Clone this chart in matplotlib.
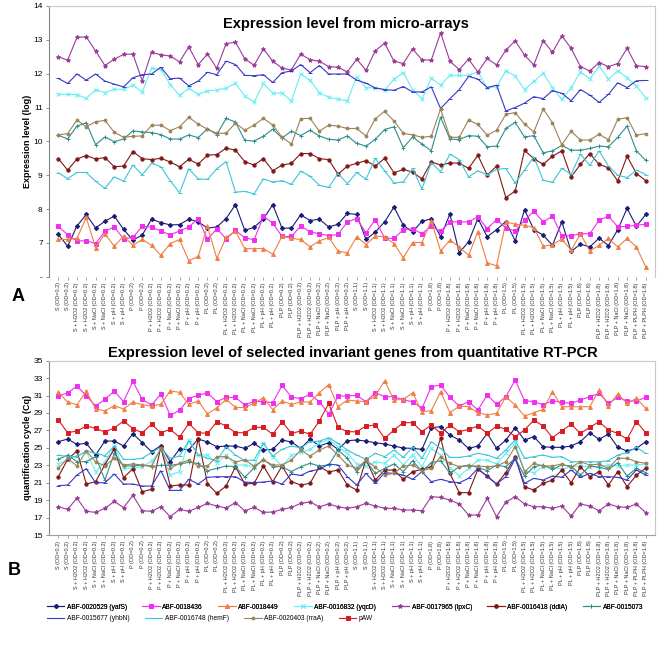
import matplotlib
matplotlib.use("Agg")
import matplotlib.pyplot as plt

plt.rcParams["font.family"] = ["Liberation Sans", "DejaVu Sans"]

####################################################################################################
# Data                                                                                             #
####################################################################################################

conditions = [
    "S (OD=0.2)", "S (OD=0.2)", "S + H2O2 (OD=0.2)", "S + H2O2 (OD=0.2)",
    "S + NaCl (OD=0.2)", "S + NaCl (OD=0.2)", "S + pH (OD=0.2)", "S + pH (OD=0.2)",
    "P (OD=0.2)", "P (OD=0.2)", "P + H2O2 (OD=0.2)", "P + H2O2 (OD=0.2)",
    "P + NaCl (OD=0.2)", "P + NaCl (OD=0.2)", "P + pH (OD=0.2)", "P + pH (OD=0.2)",
    "PL (OD=0.2)", "PL (OD=0.2)", "PL + H2O2 (OD=0.2)", "PL + H2O2 (OD=0.2)",
    "PL + NaCl (OD=0.2)", "PL + NaCl (OD=0.2)", "PL + pH (OD=0.2)", "PL + pH (OD=0.2)",
    "PLP (OD=0.2)", "PLP (OD=0.2)", "PLP + H2O2 (OD=0.2)", "PLP + H2O2 (OD=0.2)",
    "PLP + NaCl (OD=0.2)", "PLP + NaCl (OD=0.2)", "PLP + pH (OD=0.2)", "PLP + pH (OD=0.2)",
    "S (OD=1.1)", "S (OD=1.1)", "S + H2O2 (OD=1.1)", "S + H2O2 (OD=1.1)",
    "S + NaCl (OD=1.1)", "S + NaCl (OD=1.1)", "S + pH (OD=1.1)", "S + pH (OD=1.1)",
    "P (OD=1.8)", "P (OD=1.8)", "P + H2O2 (OD=1.8)", "P + H2O2 (OD=1.8)",
    "P + NaCl (OD=1.8)", "P + NaCl (OD=1.8)", "P + pH (OD=1.8)", "P + pH (OD=1.8)",
    "PL (OD=1.5)", "PL (OD=1.5)", "PL + H2O2 (OD=1.5)", "PL + H2O2 (OD=1.5)",
    "PL + NaCl (OD=1.5)", "PL + NaCl (OD=1.5)", "PL + pH (OD=1.5)", "PL + pH (OD=1.5)",
    "PLP (OD=1.8)", "PLP (OD=1.8)", "PLP + H2O2 (OD=1.8)", "PLP + H2O2 (OD=1.8)",
    "PLP + NaCl (OD=1.8)", "PLP + NaCl (OD=1.8)", "PLP + PLPH (OD=1.8)", "PLP + PLPH (OD=1.8)",
]

gene_names = [
    "ABF-0020529 (yafS)", "ABF-0018436", "ABF-0018449", "ABF-0016832 (yqcD)",
    "ABF-0017965 (lpxC)", "ABF-0016418 (ddlA)", "ABF-0015073", "ABF-0015677 (yhbN)",
    "ABF-0016748 (hemF)", "ABF-0020403 (rraA)", "pAW",
]

# Panel A: micro-array expression level (log)
yafS_a = [7.25, 6.90, 7.50, 7.84, 7.44, 7.64, 7.79, 7.40, 7.08, 7.23, 7.70, 7.60, 7.53, 7.54, 7.70, 7.62,
          7.44, 7.47, 7.72, 8.13, 7.37, 7.46, 7.71, 8.13, 7.43, 7.44, 7.83, 7.66, 7.70, 7.47, 7.55, 7.87,
          7.84, 7.10, 7.32, 7.62, 8.06, 7.52, 7.32, 7.64, 7.71, 7.18, 7.85, 6.71, 7.03, 7.72, 7.18, 7.39,
          7.63, 7.06, 7.98, 7.39, 7.23, 6.93, 7.62, 6.75, 6.96, 6.88, 7.14, 6.92, 7.39, 8.02, 7.49, 7.84]
m436_a = [7.49, 7.24, 7.06, 7.06, 6.98, 7.34, 7.47, 7.12, 7.16, 7.49, 7.47, 7.35, 7.24, 7.35, 7.47, 7.72,
          7.10, 7.42, 7.12, 7.37, 7.15, 7.09, 7.79, 7.58, 7.19, 7.19, 7.50, 7.32, 7.27, 7.21, 7.25, 7.62,
          7.72, 7.29, 7.69, 7.14, 7.13, 7.39, 7.42, 7.27, 7.49, 7.34, 7.62, 7.62, 7.62, 7.77, 7.42, 7.69,
          7.44, 7.35, 7.67, 7.93, 7.62, 7.79, 7.21, 7.21, 7.27, 7.27, 7.67, 7.79, 7.47, 7.49, 7.52, 7.55]
o449_a = [7.10, 7.10, 7.13, 7.75, 6.86, 7.27, 6.90, 7.20, 6.93, 7.10, 6.93, 6.63, 6.98, 7.10, 6.47, 6.60,
          7.49, 6.54, 7.16, 7.35, 6.83, 6.83, 6.83, 6.66, 7.20, 7.13, 7.10, 6.88, 7.06, 7.16, 6.76, 6.70,
          7.18, 6.95, 7.20, 7.18, 6.98, 6.56, 7.01, 7.01, 7.65, 6.76, 7.08, 6.88, 6.63, 7.33, 6.41, 6.32,
          7.62, 7.55, 7.52, 7.45, 6.90, 6.95, 7.11, 6.78, 7.27, 6.76, 6.93, 7.13, 6.88, 7.13, 6.88, 6.29]
yqcD_a = [11.39, 11.39, 11.38, 11.27, 11.53, 11.44, 11.54, 11.54, 11.66, 11.46, 12.16, 12.13, 11.68, 11.36,
          11.57, 11.39, 11.49, 11.52, 11.57, 11.72, 11.34, 11.16, 11.71, 11.42, 11.43, 11.19, 12.00, 11.80,
          11.44, 11.30, 11.25, 11.19, 11.91, 11.58, 11.59, 11.51, 11.84, 12.03, 11.53, 11.25, 11.87, 11.66,
          11.95, 11.95, 11.95, 12.05, 11.59, 11.61, 12.09, 11.93, 11.53, 11.77, 12.01, 11.59, 11.24, 11.59,
          12.05, 11.85, 12.22, 11.84, 12.09, 11.88, 11.63, 11.29]
lpxC_a = [12.50, 12.40, 13.07, 13.09, 12.67, 12.24, 12.43, 12.57, 12.58, 11.79, 12.63, 12.56, 12.52, 12.35,
          12.79, 12.27, 12.58, 12.16, 12.89, 12.93, 12.44, 12.25, 12.73, 12.37, 12.16, 12.11, 12.58, 12.41,
          12.37, 12.21, 12.19, 12.05, 12.43, 12.10, 12.68, 12.90, 12.37, 12.30, 12.73, 12.41, 12.40, 13.21,
          12.37, 12.12, 12.43, 12.05, 12.45, 12.26, 12.70, 12.97, 12.55, 12.26, 12.98, 12.63, 13.12, 12.75,
          12.21, 12.08, 12.33, 12.21, 12.30, 12.75, 12.23, 12.21]
ddlA_a = [9.49, 9.15, 9.48, 9.58, 9.48, 9.52, 9.25, 9.27, 9.70, 9.49, 9.46, 9.50, 9.39, 9.25, 9.47, 9.33,
          9.59, 9.61, 9.80, 9.74, 9.40, 9.30, 9.49, 9.13, 9.30, 9.35, 9.64, 9.64, 9.49, 9.46, 9.03, 9.27,
          9.35, 9.43, 9.27, 9.50, 9.07, 9.17, 9.09, 8.89, 9.39, 9.30, 9.36, 9.36, 9.20, 9.59, 9.00, 9.27,
          8.34, 8.53, 9.73, 9.49, 9.32, 9.56, 9.72, 8.95, 9.32, 9.64, 9.32, 9.22, 8.83, 9.56, 9.05, 8.84]
t073_a = [10.18, 10.07, 10.45, 10.55, 9.90, 10.13, 9.99, 10.07, 10.31, 10.28, 10.26, 10.20, 10.07, 10.07,
          10.19, 10.11, 10.37, 10.20, 10.68, 10.57, 10.03, 10.01, 10.15, 10.36, 10.10, 10.30, 10.17, 10.33,
          10.16, 10.06, 10.04, 10.16, 9.94, 9.86, 10.06, 10.35, 10.43, 9.81, 10.13, 9.92, 9.72, 10.71,
          10.07, 10.05, 10.17, 10.15, 9.84, 9.86, 10.38, 10.56, 10.13, 10.17, 9.66, 9.72, 9.88, 9.74,
          9.74, 9.79, 9.86, 9.84, 10.12, 10.45, 9.72, 9.44]
yhbN_a = [11.86, 11.71, 11.99, 11.81, 11.99, 11.78, 11.69, 11.61, 11.88, 11.97, 11.99, 12.19, 11.85, 11.87,
          11.64, 11.78, 12.04, 11.97, 12.37, 12.27, 11.95, 11.94, 11.97, 11.74, 12.03, 12.08, 12.27, 12.03,
          12.24, 11.99, 11.99, 11.99, 11.81, 11.72, 11.58, 11.53, 11.51, 11.62, 11.46, 11.46, 11.61, 10.97,
          11.26, 11.53, 11.92, 11.84, 11.59, 11.66, 10.90, 11.00, 11.13, 11.32, 11.26, 11.50, 11.42, 11.20,
          11.53, 11.37, 11.15, 11.39, 11.73, 11.59, 11.79, 11.80]
hemF_a = [9.07, 8.90, 9.08, 9.08, 8.82, 8.61, 8.95, 8.82, 9.30, 9.01, 9.35, 9.25, 8.84, 8.48, 9.19, 8.89,
          8.88, 9.19, 9.40, 8.50, 8.52, 8.45, 8.89, 8.80, 8.84, 8.73, 9.12, 8.97, 8.70, 8.64, 9.05, 8.75,
          9.08, 8.88, 9.50, 9.13, 8.77, 8.80, 9.20, 8.59, 9.37, 9.10, 9.62, 9.46, 8.95, 9.13, 9.01, 9.17,
          9.20, 8.77, 9.15, 9.54, 8.85, 8.79, 9.20, 9.03, 9.62, 9.29, 9.72, 9.27, 9.00, 8.93, 9.15, 9.02]
rraA_a = [10.19, 10.23, 10.63, 10.43, 10.58, 10.62, 10.27, 10.12, 10.15, 10.16, 10.47, 10.48, 10.32, 10.43,
          10.71, 10.51, 10.36, 10.24, 10.24, 10.54, 10.33, 10.48, 10.68, 10.48, 10.12, 9.92, 10.67, 10.68,
          10.30, 10.48, 10.45, 10.38, 10.38, 10.16, 10.67, 10.89, 10.60, 10.24, 10.19, 10.12, 10.15, 10.96,
          10.12, 10.12, 10.63, 10.50, 10.18, 10.33, 10.80, 10.85, 10.51, 10.28, 10.96, 10.55, 9.90, 10.30,
          10.04, 10.04, 10.21, 10.05, 10.65, 10.70, 10.18, 10.23]

# Panel B: quantitative RT-PCR quantification cycle (Cq)
yafS_b = [25.71, 26.01, 25.40, 25.52, 24.18, 25.78, 25.78, 25.21, 26.63, 25.59, 24.56, 25.25, 23.41, 24.87,
          24.79, 26.01, 25.67, 25.13, 25.21, 25.21, 24.94, 25.52, 24.75, 24.83, 25.90, 25.67, 24.94, 26.01,
          25.21, 25.59, 24.83, 25.82, 25.90, 25.78, 25.59, 25.44, 25.21, 24.98, 24.94, 24.83, 27.31, 27.43,
          26.47, 25.90, 24.94, 25.21, 26.66, 24.94, 25.90, 27.31, 25.90, 26.28, 25.13, 25.06, 25.06, 25.21,
          25.71, 26.74, 25.98, 26.59, 25.06, 24.64, 24.94, 25.71]
m436_b = [30.98, 31.29, 32.09, 30.98, 29.80, 30.56, 31.52, 30.30, 32.63, 30.56, 29.91, 31.18, 28.73, 29.30,
          30.64, 31.06, 31.29, 30.30, 30.79, 30.79, 29.91, 30.33, 30.30, 30.18, 32.17, 30.83, 30.64, 31.14,
          30.30, 28.88, 30.95, 30.95, 31.02, 30.30, 31.33, 30.87, 30.87, 30.49, 30.30, 29.53, 32.02, 32.21,
          30.79, 29.80, 30.30, 29.34, 31.06, 29.99, 30.87, 32.78, 30.41, 30.30, 29.95, 30.41, 30.22, 30.11,
          30.49, 30.87, 31.25, 30.11, 30.79, 30.37, 30.37, 30.79]
o449_b = [31.37, 30.26, 29.95, 31.48, 29.49, 29.23, 29.84, 29.46, 30.26, 29.95, 29.80, 29.99, 31.52, 31.37,
          29.99, 30.37, 28.88, 29.61, 30.56, 29.65, 29.61, 30.11, 30.76, 29.38, 30.37, 29.99, 30.26, 30.26,
          31.33, 32.25, 29.72, 30.49, 30.37, 30.30, 30.95, 32.71, 30.49, 30.56, 31.33, 29.15, 29.26, 31.44,
          29.03, 29.80, 29.72, 29.03, 28.77, 28.96, 30.87, 29.91, 28.65, 29.03, 29.42, 31.44, 29.72, 29.72,
          29.72, 29.72, 31.63, 29.80, 31.18, 30.11, 30.68, 29.53]
yqcD_b = [23.14, 23.60, 24.06, 24.56, 22.27, 23.41, 25.21, 22.65, 22.65, 22.84, 23.45, 24.83, 21.88, 22.27,
          25.90, 24.18, 24.18, 23.30, 24.18, 23.03, 23.03, 22.84, 25.52, 23.99, 22.92, 24.14, 24.48, 24.83,
          25.59, 25.98, 25.13, 24.37, 23.15, 22.92, 23.41, 23.22, 24.18, 23.03, 24.18, 22.84, 24.94, 24.18,
          22.72, 21.77, 22.65, 23.60, 23.60, 23.15, 24.37, 25.52, 22.38, 22.15, 22.84, 22.76, 22.53, 22.84,
          22.92, 22.84, 22.84, 23.03, 22.92, 23.03, 23.03, 23.15]
lpxC_b = [18.25, 17.94, 19.24, 17.72, 17.60, 18.06, 18.86, 18.14, 19.55, 17.79, 17.72, 18.25, 17.10, 17.94,
          17.72, 18.17, 18.63, 18.33, 18.10, 18.71, 17.79, 18.17, 17.60, 17.64, 17.94, 18.17, 18.63, 18.79,
          18.25, 18.56, 18.25, 18.06, 18.25, 18.63, 18.33, 18.06, 18.06, 17.87, 17.87, 17.79, 19.40, 19.32,
          19.01, 18.56, 17.29, 17.29, 19.21, 17.10, 18.79, 19.40, 18.56, 18.25, 18.25, 18.06, 18.33, 17.18,
          18.56, 18.33, 17.79, 18.56, 18.25, 18.17, 18.56, 17.56]
ddlA_b = [21.69, 23.68, 24.64, 20.85, 21.12, 23.07, 24.87, 21.58, 22.61, 19.97, 20.24, 25.13, 20.62, 20.74,
          20.74, 26.05, 20.89, 19.78, 20.62, 22.84, 20.85, 20.93, 22.92, 21.12, 22.92, 21.12, 20.74, 20.93,
          22.84, 22.23, 22.46, 20.74, 20.16, 23.68, 21.31, 22.46, 22.46, 21.39, 22.27, 22.53, 22.84, 26.09,
          22.07, 19.86, 19.86, 22.53, 21.77, 20.85, 22.15, 23.99, 20.54, 20.16, 20.93, 21.31, 22.46, 21.00,
          22.84, 21.69, 22.27, 20.74, 22.27, 20.54, 21.88, 22.65]
t073_b = [23.68, 24.18, 23.41, 23.41, 23.99, 21.31, 24.37, 22.92, 22.92, 23.03, 22.84, 23.00, 23.00, 23.15,
          23.34, 23.22, 22.38, 22.65, 22.92, 22.84, 21.62, 22.72, 23.68, 22.84, 22.84, 22.27, 22.84, 23.22,
          22.92, 23.03, 24.75, 23.80, 22.27, 23.53, 22.07, 22.65, 23.15, 22.27, 23.53, 22.27, 23.30, 23.53,
          22.07, 22.84, 23.03, 22.76, 22.38, 23.03, 22.84, 23.80, 21.77, 22.84, 23.03, 22.53, 23.03, 22.92,
          21.88, 22.92, 22.76, 22.53, 23.30, 21.77, 22.65, 22.15]
yhbN_b = [20.66, 20.74, 21.88, 22.61, 21.00, 21.00, 22.00, 20.85, 20.85, 20.62, 20.62, 22.38, 20.12, 20.12,
          21.39, 20.85, 21.62, 21.69, 21.69, 21.69, 21.08, 21.00, 21.08, 21.20, 20.85, 22.00, 21.84, 22.34,
          22.53, 23.14, 23.03, 21.69, 20.74, 22.07, 20.93, 22.15, 22.07, 21.88, 21.39, 22.27, 21.12, 21.39,
          21.12, 21.00, 21.50, 22.65, 21.69, 20.85, 21.69, 23.76, 20.93, 21.50, 21.31, 21.77, 21.62, 22.46,
          21.62, 22.07, 21.69, 21.69, 21.62, 21.31, 22.46, 21.88]
hemF_b = [24.18, 23.99, 23.99, 24.64, 24.37, 24.10, 25.21, 23.68, 23.68, 23.80, 24.48, 25.02, 23.80, 24.06,
          25.78, 24.22, 23.80, 23.53, 25.13, 24.18, 23.53, 23.60, 25.52, 24.06, 24.83, 25.21, 24.98, 25.71,
          25.78, 26.17, 25.52, 24.75, 24.18, 23.68, 24.37, 23.99, 24.75, 23.91, 25.06, 23.80, 25.71, 24.94,
          23.91, 23.91, 24.06, 24.37, 24.18, 23.80, 24.75, 25.90, 23.80, 23.99, 24.18, 23.91, 23.99, 23.41,
          23.41, 23.41, 23.41, 23.53, 24.18, 24.45, 25.06, 24.37]
rraA_b = [22.65, 23.80, 22.92, 24.64, 23.41, 22.92, 23.80, 23.03, 23.15, 23.03, 22.92, 24.94, 22.65, 23.22,
          23.60, 22.92, 22.92, 23.99, 23.99, 23.41, 23.60, 22.92, 23.60, 23.03, 23.03, 23.60, 24.75, 24.06,
          24.75, 25.21, 24.18, 23.03, 22.65, 23.60, 22.76, 21.88, 22.07, 22.92, 23.03, 22.38, 22.65, 23.99,
          23.22, 22.84, 22.92, 22.92, 22.84, 22.92, 23.41, 25.13, 22.27, 23.22, 22.92, 22.92, 23.15, 22.76,
          23.41, 23.03, 23.15, 22.65, 23.80, 23.80, 23.41, 23.22]
paw_b = [28.19, 26.74, 26.93, 27.50, 27.24, 26.82, 27.28, 28.08, 27.20, 26.74, 27.70, 26.74, 27.12, 26.24,
         27.81, 26.74, 26.66, 28.00, 27.50, 26.74, 26.74, 27.35, 27.35, 26.55, 28.00, 26.66, 26.93, 26.55,
         28.08, 30.11, 27.35, 26.85, 26.85, 27.50, 27.62, 26.09, 27.05, 27.89, 27.89, 26.85, 27.62, 26.66,
         27.62, 26.85, 27.12, 27.50, 26.66, 27.50, 27.12, 26.28, 27.05, 28.19, 27.50, 26.17, 26.97, 27.70,
         26.66, 27.35, 28.00, 27.05, 26.66, 26.01, 28.00, 26.74]

panel_a = [yafS_a, m436_a, o449_a, yqcD_a, lpxC_a, ddlA_a, t073_a, yhbN_a, hemF_a, rraA_a, None]
panel_b = [yafS_b, m436_b, o449_b, yqcD_b, lpxC_b, ddlA_b, t073_b, yhbN_b, hemF_b, rraA_b, paw_b]

####################################################################################################
# Styles                                                                                           #
####################################################################################################

colors = ["#1c1c78", "#f02ef0", "#f07f47", "#66eef2", "#9a3c9a", "#801818",
          "#2f8f8c", "#3838c8", "#3cc6d6", "#9c8258", "#d81c22"]
markers = ["D", "s", "^", "x", "*", "o", "+", "_", "_", "o", "s"]
msizes = [2.2, 2.8, 2.8, 2.8, 3.0, 2.4, 3.0, 3.0, 3.0, 2.0, 2.8]

x = list(range(len(conditions)))

fig = plt.figure(figsize=(6.61, 6.52), dpi=100)
ax_a = fig.add_axes([0.0741, 0.5756, 0.9169, 0.4152])
ax_b = fig.add_axes([0.0741, 0.1794, 0.9169, 0.2674])


def style_axes(ax):
    for side in ["top", "right", "bottom"]:
        ax.spines[side].set_color("#c8c8c8")
        ax.spines[side].set_linewidth(0.8)
    ax.spines["left"].set_color("#808080")
    ax.spines["left"].set_linewidth(0.8)
    ax.set_xlim(-1, 64)
    ax.set_xticks(x)
    ax.set_xticklabels(conditions, rotation=90, fontsize=4, color="#333333")
    ax.tick_params(axis="x", length=2, width=0.5, color="#808080", pad=2)
    ax.tick_params(axis="y", length=2.5, width=0.6, color="#808080", labelsize=6, pad=2)


for vals, c, m, ms in zip(panel_a, colors, markers, msizes):
    if vals is None:
        continue
    ax_a.plot(x, vals, color=c, marker=m, markersize=ms, linewidth=0.8,
              markeredgewidth=0.7, markeredgecolor=c)

lines_b = []
for vals, c, m, ms, name in zip(panel_b, colors, markers, msizes, gene_names):
    ln = ax_b.plot(x, vals, color=c, marker=m, markersize=ms, linewidth=0.8,
                   markeredgewidth=0.7, markeredgecolor=c, label=name)[0]
    lines_b.append(ln)

style_axes(ax_a)
ax_a.spines["bottom"].set_visible(False)
ax_a.set_ylim(6, 14)
ax_a.set_yticks(range(6, 15))
ax_a.set_yticklabels(["-"] + [str(v) for v in range(7, 15)])
ax_a.set_ylabel("Expression level (log)", fontsize=6.5, fontweight="bold", labelpad=1)
ax_a.text(0.49, 0.935, "Expression level from micro-arrays", transform=ax_a.transAxes,
          ha="center", va="center", fontsize=10.5, fontweight="bold")

style_axes(ax_b)
ax_b.spines["bottom"].set_color("#a0a0a0")
ax_b.set_ylim(15, 35)
ax_b.set_yticks(range(15, 36, 2))
ax_b.set_ylabel("quantification cycle (Cq)", fontsize=6.5, fontweight="bold", labelpad=1)
fig.text(0.533, 0.459, "Expression level of selected invariant genes from quantitative RT-PCR",
         ha="center", va="center", fontsize=10.5, fontweight="bold")

fig.text(0.018, 0.545, "A", fontsize=13, fontweight="bold", ha="left", va="center")
fig.text(0.012, 0.125, "B", fontsize=13, fontweight="bold", ha="left", va="center")

# Legend in two rows, laid out left to right like the original
row1 = lines_b[:7]
row2 = lines_b[7:]
leg1 = fig.legend(handles=row1, labels=gene_names[:7], loc="center left",
                  bbox_to_anchor=(0.066, 0.069), ncol=7, frameon=False, fontsize=4.8,
                  handlelength=2.6, handletextpad=0.4, columnspacing=2.3, borderpad=0)
fig.add_artist(leg1)
fig.legend(handles=row2, labels=gene_names[7:], loc="center left",
           bbox_to_anchor=(0.066, 0.051), ncol=4, frameon=False, fontsize=4.8,
           handlelength=2.6, handletextpad=0.4, columnspacing=2.3, borderpad=0)

fig.savefig("out.png", dpi=100)
